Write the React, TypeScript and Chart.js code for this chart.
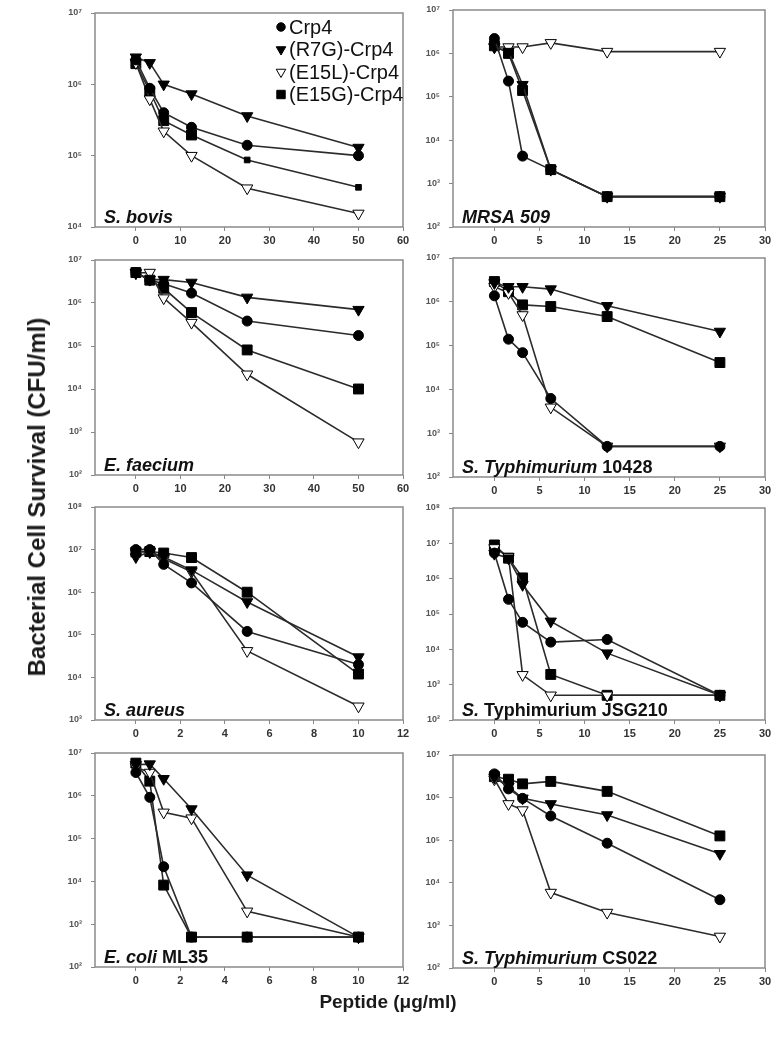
import React, { useEffect, useRef } from 'react';
import { Chart, registerables } from 'chart.js';
import { drawPoint } from 'chart.js/helpers';

Chart.register(...registerables);

const FONT = '"Liberation Sans", Arial, sans-serif';
Chart.defaults.font.family = FONT;

const SERIES_NAMES = ['Crp4', '(R7G)-Crp4', '(E15L)-Crp4', '(E15G)-Crp4'];

// S. bovis
const bovisDose = [0, 3.125, 6.25, 12.5, 25, 50];
const bovisCrp4 = [2.2e6, 8.8e5, 4.0e5, 2.5e5, 1.4e5, 1.0e5];
const bovisR7G = [2.4e6, 2.0e6, 1.0e6, 7.3e5, 3.6e5, 1.3e5];
const bovisE15L = [2.0e6, 6.2e5, 2.2e5, 1.0e5, 3.5e4, 1.55e4];
const bovisE15G = [1.95e6, 8.0e5, 3.1e5, 1.95e5, 8.7e4, 3.6e4];

// MRSA 509
const mrsaDose = [0, 1.5625, 3.125, 6.25, 12.5, 25];
const mrsaCrp4 = [2.2e6, 2.3e5, 4.3e3, 2.1e3, 500, 500];
const mrsaR7G = [1.4e6, 1.1e6, 1.9e5, 2.1e3, 500, 500];
const mrsaE15L = [1.4e6, 1.4e6, 1.4e6, 1.75e6, 1.1e6, 1.1e6];
const mrsaE15G = [1.5e6, 1.0e6, 1.4e5, 2.1e3, 500, 500];

// E. faecium
const faeciumDose = [0, 3.125, 6.25, 12.5, 25, 50];
const faeciumCrp4 = [5.1e6, 3.4e6, 2.8e6, 1.7e6, 3.8e5, 1.75e5];
const faeciumR7G = [5.0e6, 3.5e6, 3.5e6, 3.0e6, 1.35e6, 7.0e5];
const faeciumE15L = [5.0e6, 5.1e6, 1.3e6, 3.5e5, 2.2e4, 5.8e2];
const faeciumE15G = [5.1e6, 3.4e6, 2.2e6, 6.0e5, 8.1e4, 1.0e4];

// S. Typhimurium 10428
const t10428Dose = [0, 1.5625, 3.125, 6.25, 12.5, 25];
const t10428Crp4 = [1.37e6, 1.4e5, 6.9e4, 6.2e3, 500, 500];
const t10428R7G = [2.7e6, 2.2e6, 2.2e6, 1.95e6, 8.1e5, 2.1e5];
const t10428E15L = [2.2e6, 1.6e6, 5.0e5, 3.9e3, 500, 500];
const t10428E15G = [2.9e6, 1.7e6, 8.5e5, 7.8e5, 4.6e5, 4.1e4];

// S. aureus
const aureusDose = [0, 0.625, 1.25, 2.5, 5, 10];
const aureusCrp4 = [1.0e7, 1.0e7, 4.5e6, 1.65e6, 1.2e5, 2.0e4];
const aureusR7G = [6.7e6, 8.8e6, 6.7e6, 3.3e6, 5.9e5, 3.0e4];
const aureusE15L = [8.8e6, 9.0e6, 6.1e6, 3.0e6, 4.2e4, 2.1e3];
const aureusE15G = [8.8e6, 9.0e6, 8.3e6, 6.5e6, 1.0e6, 1.2e4];

// S. Typhimurium JSG210
const jsgDose = [0, 1.5625, 3.125, 6.25, 12.5, 25];
const jsgCrp4 = [5.3e6, 2.6e5, 5.8e4, 1.6e4, 1.9e4, 500];
const jsgR7G = [5.1e6, 3.8e6, 6.7e5, 6.2e4, 7.8e3, 500];
const jsgE15L = [7.4e6, 4.2e6, 1.9e3, 500, 500, 500];
const jsgE15G = [9.0e6, 3.8e6, 1.05e6, 1.95e3, 500, 500];

// E. coli ML35
const coliDose = [0, 0.625, 1.25, 2.5, 5, 10];
const coliCrp4 = [3.5e6, 9.2e5, 2.2e4, 500, 500, 500];
const coliR7G = [5.3e6, 5.5e6, 2.5e6, 4.9e5, 1.4e4, 500];
const coliE15L = [4.7e6, 3.5e6, 4.1e5, 3.0e5, 2.0e3, 500];
const coliE15G = [5.8e6, 2.2e6, 8.2e3, 500, 500, 500];

// S. Typhimurium CS022
const csDose = [0, 1.5625, 3.125, 6.25, 12.5, 25];
const csCrp4 = [3.6e6, 1.6e6, 9.6e5, 3.7e5, 8.5e4, 4.0e3];
const csR7G = [3.0e6, 1.8e6, 9.6e5, 7.1e5, 3.9e5, 4.8e4];
const csE15L = [2.7e6, 7.1e5, 5.1e5, 5.9e3, 2.0e3, 5.5e2];
const csE15G = [3.1e6, 2.7e6, 2.1e6, 2.4e6, 1.4e6, 1.26e5];

type Seg = { text: string; italic?: boolean };

const STYLES = [
  { style: 'circle', rotation: 0, fill: '#000', radius: 5 },
  { style: 'triangle', rotation: 180, fill: '#000', radius: 6.5 },
  { style: 'triangle', rotation: 180, fill: '#fff', radius: 6.5 },
  { style: 'rect', rotation: 0, fill: '#000', radius: 7 },
];

const PANELS = [
  { dose: bovisDose, series: [bovisCrp4, bovisR7G, bovisE15L, bovisE15G], xMax: 60, xStep: 10, yMin: 4, yMax: 7,
    rect: { l: 95, t: 13, r: 403, b: 227 }, label: [{ text: 'S. bovis', italic: true }] as Seg[], legend: true, smallLast: true },
  { dose: mrsaDose, series: [mrsaCrp4, mrsaR7G, mrsaE15L, mrsaE15G], xMax: 30, xStep: 5, yMin: 2, yMax: 7,
    rect: { l: 453, t: 10, r: 765, b: 227 }, label: [{ text: 'MRSA 509', italic: true }] as Seg[] },
  { dose: faeciumDose, series: [faeciumCrp4, faeciumR7G, faeciumE15L, faeciumE15G], xMax: 60, xStep: 10, yMin: 2, yMax: 7,
    rect: { l: 95, t: 260, r: 403, b: 475 }, label: [{ text: 'E. faecium', italic: true }] as Seg[] },
  { dose: t10428Dose, series: [t10428Crp4, t10428R7G, t10428E15L, t10428E15G], xMax: 30, xStep: 5, yMin: 2, yMax: 7,
    rect: { l: 453, t: 258, r: 765, b: 477 }, label: [{ text: 'S. Typhimurium ', italic: true }, { text: '10428' }] as Seg[] },
  { dose: aureusDose, series: [aureusCrp4, aureusR7G, aureusE15L, aureusE15G], xMax: 12, xStep: 2, yMin: 3, yMax: 8,
    rect: { l: 95, t: 507, r: 403, b: 720 }, label: [{ text: 'S. aureus', italic: true }] as Seg[] },
  { dose: jsgDose, series: [jsgCrp4, jsgR7G, jsgE15L, jsgE15G], xMax: 30, xStep: 5, yMin: 2, yMax: 8,
    rect: { l: 453, t: 508, r: 765, b: 720 }, label: [{ text: 'S.', italic: true }, { text: ' Typhimurium JSG210' }] as Seg[] },
  { dose: coliDose, series: [coliCrp4, coliR7G, coliE15L, coliE15G], xMax: 12, xStep: 2, yMin: 2, yMax: 7,
    rect: { l: 95, t: 753, r: 403, b: 967 }, label: [{ text: 'E. coli ', italic: true }, { text: 'ML35' }] as Seg[] },
  { dose: csDose, series: [csCrp4, csR7G, csE15L, csE15G], xMax: 30, xStep: 5, yMin: 2, yMax: 7,
    rect: { l: 453, t: 755, r: 765, b: 968 }, label: [{ text: 'S. Typhimurium ', italic: true }, { text: 'CS022' }] as Seg[] },
];

const PAD_L = 45, PAD_T = 18, PAD_R = 14, PAD_B = 30;

function sup(n: number) {
  const m = '⁰¹²³⁴⁵⁶⁷⁸⁹';
  return String(n).split('').map((c) => m[+c]).join('');
}

function Panel({ p }: { p: any }) {
  const ref = useRef<HTMLCanvasElement>(null);
  const w = p.rect.r - p.rect.l + PAD_L + PAD_R;
  const h = p.rect.b - p.rect.t + PAD_T + PAD_B;
  useEffect(() => {
    const xTicks: number[] = [];
    for (let v = 0; v <= p.xMax + 1e-9; v += p.xStep) xTicks.push(v);
    const yTicks: number[] = [];
    for (let e = p.yMin; e <= p.yMax; e++) yTicks.push(Math.pow(10, e));

    const panelPlugin = {
      id: 'panelDeco',
      beforeDatasetsDraw(chart: any) {
        const { ctx, chartArea: a } = chart;
        ctx.save();
        ctx.strokeStyle = '#8a8a8a';
        ctx.lineWidth = 1.5;
        ctx.strokeRect(a.left, a.top, a.right - a.left, a.bottom - a.top);
        ctx.restore();
      },
      afterDraw(chart: any) {
        const { ctx, chartArea: a } = chart;
        ctx.save();
        ctx.fillStyle = '#111';
        ctx.textBaseline = 'alphabetic';
        let x = a.left + 9;
        const y = a.bottom - 4;
        for (const s of p.label as Seg[]) {
          ctx.font = `${s.italic ? 'italic ' : ''}bold 18px ${FONT}`;
          ctx.fillText(s.text, x, y);
          x += ctx.measureText(s.text).width;
        }
        if (p.legend) {
          const mx = a.left + 186;
          const rows = [14, 36.5, 59, 81.5];
          ctx.font = `20px ${FONT}`;
          ctx.textBaseline = 'middle';
          STYLES.forEach((st, k) => {
            const yy = a.top + rows[k];
            ctx.fillStyle = st.fill;
            ctx.strokeStyle = '#000';
            drawPoint(ctx, { pointStyle: st.style as any, rotation: st.rotation, radius: st.radius * 0.85, borderWidth: 1 }, mx, yy);
            ctx.fillStyle = '#111';
            ctx.fillText(SERIES_NAMES[k], mx + 8, yy + 1);
          });
        }
        ctx.restore();
      },
    };

    const chart = new Chart(ref.current!, {
      type: 'line',
      data: {
        datasets: STYLES.map((st, k) => ({
          label: SERIES_NAMES[k],
          data: p.dose.map((d: number, i: number) => ({ x: d, y: p.series[k][i] })),
          borderColor: '#2b2b2b',
          borderWidth: 1.6,
          pointStyle: st.style as any,
          pointRotation: st.rotation,
          pointRadius: p.smallLast && k === 3 ? p.dose.map((_: number, i: number) => (i >= 4 ? 4 : st.radius)) : st.radius,
          pointBackgroundColor: st.fill,
          pointBorderColor: '#000',
          pointBorderWidth: 1,
          tension: 0,
          fill: false,
        })),
      },
      options: {
        responsive: false,
        maintainAspectRatio: false,
        animation: false,
        layout: { padding: { top: PAD_T, right: PAD_R, left: 0, bottom: 0 } },
        plugins: { legend: { display: false }, tooltip: { enabled: false } },
        scales: {
          x: {
            type: 'linear',
            min: -0.153 * p.xMax,
            max: p.xMax,
            afterBuildTicks: (s: any) => { s.ticks = xTicks.map((v) => ({ value: v })); },
            afterFit: (s: any) => { s.height = PAD_B; },
            grid: { drawOnChartArea: false, drawTicks: true, tickLength: 4, color: '#888' },
            border: { display: false },
            ticks: { font: { size: 11, weight: 'bold' }, color: '#333', padding: 3, maxRotation: 0, autoSkip: false },
          },
          y: {
            type: 'logarithmic',
            min: Math.pow(10, p.yMin),
            max: Math.pow(10, p.yMax),
            afterBuildTicks: (s: any) => { s.ticks = yTicks.map((v) => ({ value: v })); },
            afterFit: (s: any) => { s.width = PAD_L; },
            grid: { drawOnChartArea: false, drawTicks: true, tickLength: 4, color: '#888' },
            border: { display: false },
            ticks: {
              callback: (v: any) => '10' + sup(Math.round(Math.log10(Number(v)))),
              font: { size: 9, weight: 'bold' },
              color: '#555',
              padding: 9,
              autoSkip: false,
            },
          },
        },
      } as any,
      plugins: [panelPlugin],
    });
    return () => chart.destroy();
  }, [p]);
  return (
    <canvas
      ref={ref}
      width={w}
      height={h}
      style={{ position: 'absolute', left: p.rect.l - PAD_L, top: p.rect.t - PAD_T, width: w, height: h }}
    />
  );
}

export default function App() {
  return (
    <div style={{ position: 'absolute', left: 0, top: 0, width: 779, height: 1048, background: '#fff', overflow: 'hidden', fontFamily: FONT }}>
      {PANELS.map((p, i) => (
        <Panel key={i} p={p} />
      ))}
      <div
        style={{
          position: 'absolute', left: 37, top: 497, transform: 'translate(-50%, -50%) rotate(-90deg)',
          whiteSpace: 'nowrap', fontWeight: 'bold', fontSize: 24, color: '#1a1a1a',
        }}
      >
        Bacterial Cell Survival (CFU/ml)
      </div>
      <div
        style={{
          position: 'absolute', left: 388, top: 1002, transform: 'translate(-50%, -50%)',
          whiteSpace: 'nowrap', fontWeight: 'bold', fontSize: 19, color: '#1a1a1a',
        }}
      >
        Peptide (μg/ml)
      </div>
    </div>
  );
}
